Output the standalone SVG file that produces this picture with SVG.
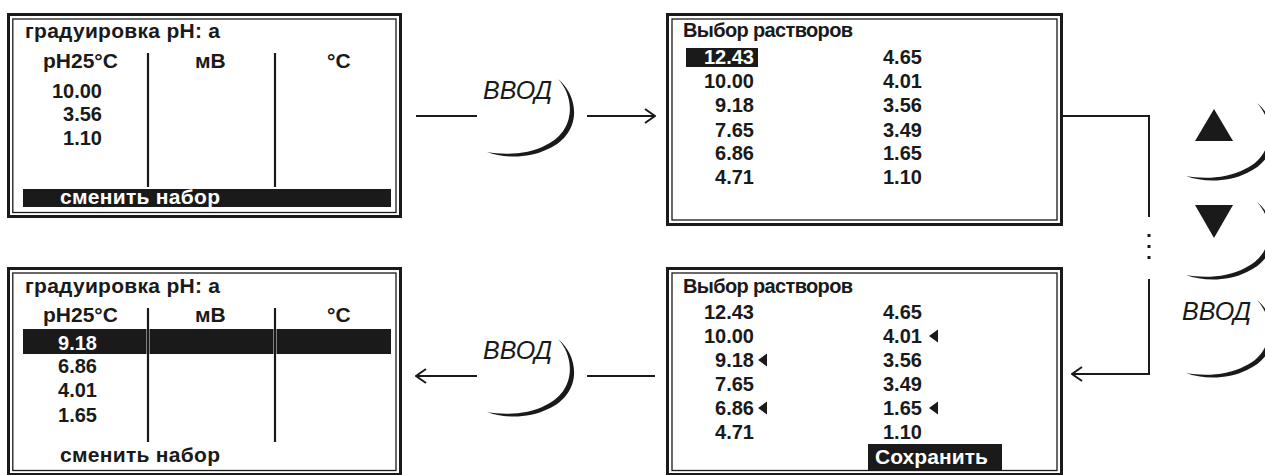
<svg xmlns="http://www.w3.org/2000/svg" xmlns:xlink="http://www.w3.org/1999/xlink" width="1265" height="475" viewBox="0 0 1265 475">
<style>
.t{font-family:"Liberation Sans",Arial,sans-serif;font-weight:bold;font-size:20px;fill:#1a1a1a}
.big{font-size:21px}
.w{fill:#fff}
.e{text-anchor:end}
.k{font-family:"Liberation Sans",Arial,sans-serif;font-style:italic;font-size:25px;fill:#1a1a1a}
.ob{fill:none;stroke:#1a1a1a;stroke-width:3}
.ib{fill:none;stroke:#1a1a1a;stroke-width:1.3}
.sep{stroke:#1a1a1a;stroke-width:2.2}
.bar{fill:#1a1a1a}
.ln{fill:none;stroke:#1a1a1a;stroke-width:2}
</style>
<defs>
<path id="cres" d="M0,0 C22,18 24,55 -10,70 C-30,80 -55,79 -71,73 C-55,76 -30,76 -12,66 C18,52 17,18 0,0 Z" fill="#1a1a1a"/>
<marker id="ah" viewBox="0 0 12 16" refX="11" refY="8" markerWidth="12" markerHeight="16" markerUnits="userSpaceOnUse" orient="auto">
<path d="M1,1 L11,8 L1,15" fill="none" stroke="#1a1a1a" stroke-width="2"/>
</marker>
</defs>

<g id="panel1">
<rect class="ob" x="8.5" y="14.5" width="392" height="202"/>
<rect class="ib" x="12.8" y="19" width="383.2" height="193.5"/>
<text class="t big" x="25" y="38" textLength="195">градуировка pH: а</text>
<text class="t big" x="43" y="68">pH25°C</text>
<text class="t big" x="195" y="68">мВ</text>
<text class="t big" x="327" y="68">°C</text>
<line class="sep" x1="148" y1="53" x2="148" y2="187"/>
<line class="sep" x1="275" y1="53" x2="275" y2="187"/>
<text class="t e" x="102" y="98">10.00</text>
<text class="t e" x="102" y="121">3.56</text>
<text class="t e" x="102" y="145">1.10</text>
<rect class="bar" x="23" y="189" width="368" height="18"/>
<text class="t big w" x="60" y="204" textLength="160">сменить набор</text>
</g>

<g id="panel2">
<rect class="ob" x="667.5" y="14.5" width="394" height="210"/>
<rect class="ib" x="672" y="19" width="385" height="201"/>
<text class="t" x="683" y="37" textLength="170">Выбор растворов</text>
<rect class="bar" x="686" y="48" width="72" height="19"/>
<text class="t e w" x="754" y="64">12.43</text>
<text class="t e" x="754" y="88">10.00</text>
<text class="t e" x="754" y="112">9.18</text>
<text class="t e" x="754" y="137">7.65</text>
<text class="t e" x="754" y="160">6.86</text>
<text class="t e" x="754" y="184">4.71</text>
<text class="t" x="883" y="64">4.65</text>
<text class="t" x="883" y="88">4.01</text>
<text class="t" x="883" y="112">3.56</text>
<text class="t" x="883" y="137">3.49</text>
<text class="t" x="883" y="160">1.65</text>
<text class="t" x="883" y="184">1.10</text>
</g>

<g id="panel3">
<rect class="ob" x="8.5" y="268.5" width="392" height="206"/>
<rect class="ib" x="12.8" y="273" width="383.2" height="197.5"/>
<text class="t big" x="25" y="293" textLength="195">градуировка pH: а</text>
<text class="t big" x="43" y="322">pH25°C</text>
<text class="t big" x="195" y="322">мВ</text>
<text class="t big" x="327" y="322">°C</text>
<rect class="bar" x="23" y="329" width="123.5" height="25"/>
<rect class="bar" x="149.5" y="329" width="124" height="25"/>
<rect class="bar" x="276.5" y="329" width="114.5" height="25"/>
<line class="sep" x1="148" y1="308" x2="148" y2="442"/>
<line class="sep" x1="275" y1="308" x2="275" y2="442"/>
<text class="t e w" x="97" y="350">9.18</text>
<text class="t e" x="97" y="373">6.86</text>
<text class="t e" x="97" y="397">4.01</text>
<text class="t e" x="97" y="422">1.65</text>
<text class="t big" x="60" y="462" textLength="160">сменить набор</text>
</g>

<g id="panel4">
<rect class="ob" x="667.5" y="268.5" width="394" height="206"/>
<rect class="ib" x="672" y="273" width="385" height="197.5"/>
<text class="t" x="683" y="293" textLength="170">Выбор растворов</text>
<text class="t e" x="754" y="319">12.43</text>
<text class="t e" x="754" y="343">10.00</text>
<text class="t e" x="754" y="367">9.18</text>
<text class="t e" x="754" y="391">7.65</text>
<text class="t e" x="754" y="415">6.86</text>
<text class="t e" x="754" y="439">4.71</text>
<text class="t" x="883" y="319">4.65</text>
<text class="t" x="883" y="343">4.01</text>
<text class="t" x="883" y="367">3.56</text>
<text class="t" x="883" y="391">3.49</text>
<text class="t" x="883" y="415">1.65</text>
<text class="t" x="883" y="439">1.10</text>
<polygon class="bar" points="758,360 767,353.5 767,366.5"/>
<polygon class="bar" points="758,408 767,401.5 767,414.5"/>
<polygon class="bar" points="929,336 938,329.5 938,342.5"/>
<polygon class="bar" points="929,408 938,401.5 938,414.5"/>
<rect class="bar" x="868" y="444" width="134" height="26"/>
<text class="t big w" x="875" y="464" textLength="113">Сохранить</text>
</g>

<g id="keys">
<text class="k" x="483" y="99">ВВОД</text>
<use xlink:href="#cres" x="558" y="79"/>
<text class="k" x="483" y="359">ВВОД</text>
<use xlink:href="#cres" x="558" y="339"/>
<polygon class="bar" points="1214,109 1195,141 1233,141"/>
<use xlink:href="#cres" x="1257" y="103"/>
<polygon class="bar" points="1195,205 1233,205 1214,238"/>
<use xlink:href="#cres" x="1257" y="202"/>
<text class="k" x="1182" y="320">ВВОД</text>
<use xlink:href="#cres" x="1257" y="300"/>
</g>

<g id="connectors">
<line class="ln" x1="416" y1="116" x2="477" y2="116"/>
<line class="ln" x1="587" y1="116" x2="655" y2="116" marker-end="url(#ah)"/>
<line class="ln" x1="655" y1="376" x2="587" y2="376"/>
<line class="ln" x1="477" y1="376" x2="416" y2="376" marker-end="url(#ah)"/>
<polyline class="ln" points="1063,116 1149,116 1149,217"/>
<rect class="bar" x="1147.5" y="234" width="3" height="3"/>
<rect class="bar" x="1147.5" y="245" width="3" height="3"/>
<rect class="bar" x="1147.5" y="256" width="3" height="3"/>
<polyline class="ln" points="1149,279 1149,374 1072,374" marker-end="url(#ah)"/>
</g>
</svg>
